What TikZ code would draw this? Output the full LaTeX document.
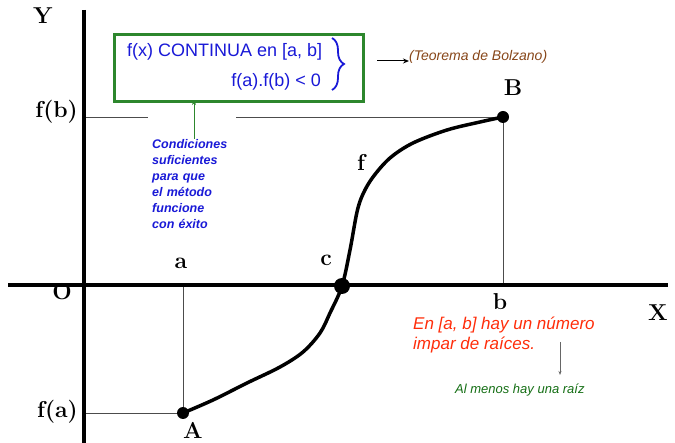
\documentclass[tikz,border=0pt]{standalone}
\usepackage{fontspec}
\newfontfamily\comic{Liberation Sans}
\usetikzlibrary{decorations.pathreplacing,arrows.meta}
\definecolor{txtblue}{RGB}{25,25,215}
\definecolor{txtred}{RGB}{255,45,10}
\definecolor{txtbrown}{RGB}{135,70,25}
\definecolor{txtgreen}{RGB}{20,110,20}
\definecolor{boxgreen}{RGB}{45,135,45}
\tikzset{
  axisline/.style={line width=4pt},
  guideline/.style={line width=0.6pt, black!70},
  fcurve/.style={line width=3.5pt, line cap=round},
  bigdot/.style={circle, fill=black, inner sep=0pt},
  serlab/.style={font=\bfseries\fontsize{23}{25}\selectfont, inner sep=0pt},
  ctext/.style={font=\comic, inner sep=0pt}
}
\begin{document}
\begin{tikzpicture}[x=1pt,y=-1pt]
\useasboundingbox (0,0) rectangle (675,443);
% coordinates
\coordinate (yt) at (84,10);
\coordinate (yb) at (84,443);
\coordinate (xl) at (8,285);
\coordinate (xr) at (668,285);
\coordinate (fa) at (84,413);
\coordinate (fb) at (84,117);
\coordinate (ax) at (183,285);
\coordinate (bx) at (503,285);
% guide lines
\draw[guideline] (fa) -- (183,413) coordinate (Ap);
\draw[guideline] (ax) -- (Ap);
\draw[guideline] (fb) -- (503,117) coordinate (Bp);
\draw[guideline] (Bp) -- (bx);
% conditions label (white background masks the guide line)
\node[ctext, fill=white, anchor=north west, text width=80pt, inner xsep=4pt, inner ysep=0pt, align=left,
      text=txtblue, font=\comic\bfseries\itshape\fontsize{12.5}{16}\selectfont] (cond) at (148,112)
  {\rule{0pt}{36pt}Condiciones\\suficientes\\para que\\el método\\funcione\\con éxito\rule[-8pt]{0pt}{8pt}};
% axes
\draw[axisline] (yt) -- (yb);
\draw[axisline] (xl) -- (xr);
% curve
\draw[fcurve] plot[smooth, tension=0.55] coordinates {
  (183,413) (213,400) (247,383) (280,367) (303,352) (320,333) (330,313) (342,286)
  (350,250) (357,212) (363,194) (373,177) (390,158) (413,143) (447,130) (480,122) (503,117)};
% dots
\node[bigdot, minimum size=12pt] (A) at (Ap) {};
\node[bigdot, minimum size=12pt] (B) at (Bp) {};
\node[bigdot, minimum size=16pt] (C) at (342,286) {};
% labels
\node[serlab] (Y) at (43,16) {Y};
\node[serlab] (X) at (658,313) {X};
\node[serlab] (O) at (62,292) {O};
\node[serlab] (la) at (181,263) {a};
\node[serlab] (lc) at (326,260) {c};
\node[serlab] (lb) at (500,302) {b};
\node[serlab] (lA) at (193,430) {A};
\node[serlab] (lB) at (513,88) {B};
\node[serlab] (lf) at (361,162) {f};
\node[serlab, anchor=east] (lfa) at (78,412) {f(a)};
\node[serlab, anchor=east] (lfb) at (78,112) {f(b)};
% green box
\node[draw=boxgreen, line width=3pt, minimum width=249pt, minimum height=67pt, inner sep=0pt] (box) at (239,68) {};
\node[ctext, text=txtblue, anchor=west, font=\comic\fontsize{18}{20}\selectfont] (t1) at (127,52) {f(x) CONTINUA en [a, b]};
\node[ctext, text=txtblue, anchor=east, font=\comic\fontsize{18}{20}\selectfont] (t2) at (321,82) {f(a).f(b) < 0};
\coordinate (brt) at (332,38);
\coordinate (brb) at (332,90);
\draw[txtblue, line width=1.8pt, decorate, decoration={brace, amplitude=12pt}] (brt) -- (brb);
% Bolzano
\coordinate (bs) at (377,61);
\node[ctext, text=txtbrown, anchor=west, font=\comic\itshape\fontsize{14}{16}\selectfont] (bolz) at (409,57) {(Teorema de Bolzano)};
\draw[line width=1pt, -{Stealth[length=6pt,width=5pt]}] (bs) -- (bs -| bolz.west) ;
% green arrow
\coordinate (gs) at (194,139);
\draw[boxgreen, line width=0.6pt, -{Stealth[length=5pt,width=4pt]}] (gs) -- ([yshift=3pt]gs |- box.south);
% red text
\node[ctext, text=txtred, anchor=north west, align=left, font=\comic\itshape\fontsize{17}{20}\selectfont] (red) at (413,317)
  {En [a, b] hay un número\\impar de raíces.};
\coordinate (ss) at (560,342);
\node[ctext, text=txtgreen, anchor=west, font=\comic\itshape\fontsize{13}{15}\selectfont] (grn) at (455,390) {Al menos hay una raíz};
\draw[black!60, line width=0.6pt, -{Stealth[length=4pt,width=3pt]}] (ss) -- (560,375);
\end{tikzpicture}
\end{document}
